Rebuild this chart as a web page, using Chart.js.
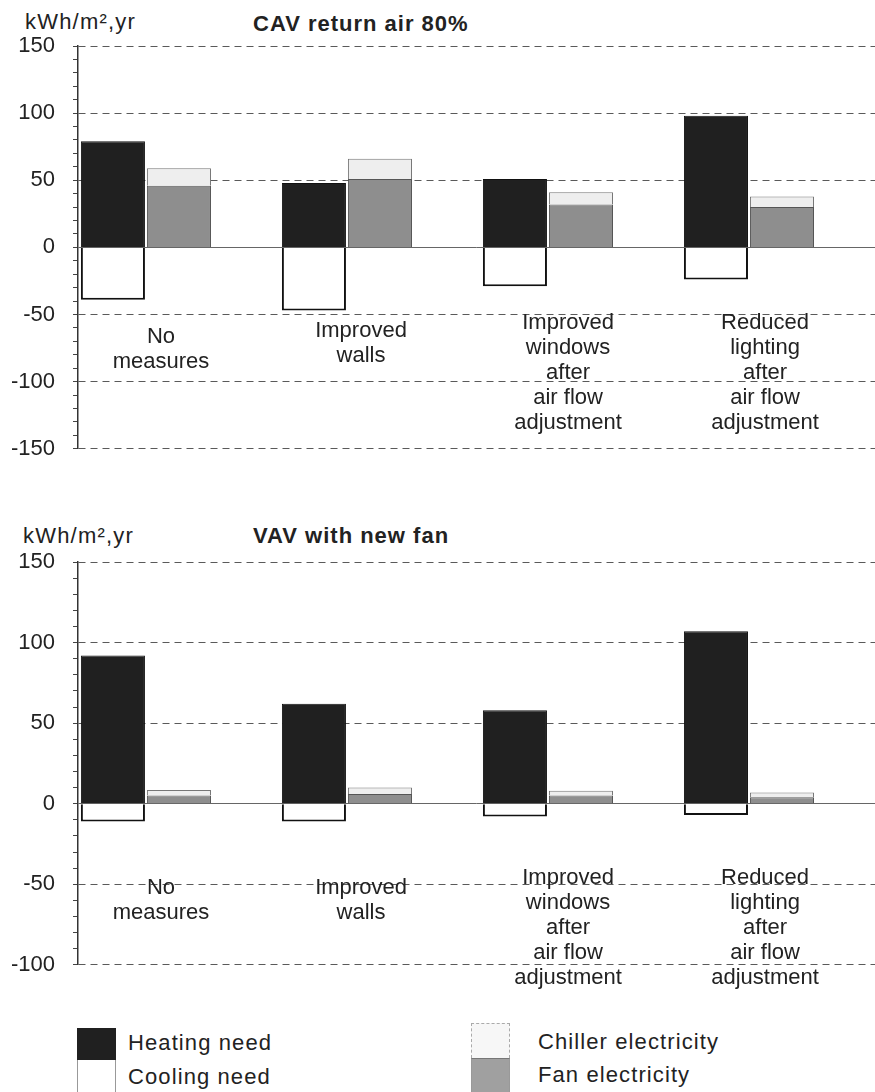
<!DOCTYPE html>
<html><head><meta charset="utf-8">
<script src="https://cdn.jsdelivr.net/npm/chart.js@4.4.1/dist/chart.umd.min.js"></script>
<style>
html,body{margin:0;padding:0;background:#fff;}
body{width:875px;height:1092px;position:relative;overflow:hidden;font-family:'Liberation Sans',Arial,sans-serif;color:#222;}
.c{position:absolute;left:0;width:875px;}
.t{position:absolute;font-size:22px;line-height:22px;white-space:nowrap;letter-spacing:1.2px;}
.b{font-weight:bold;letter-spacing:1px;}
.sw{position:absolute;width:39px;box-sizing:border-box;}
.lt{position:absolute;font-size:22px;line-height:22px;white-space:nowrap;letter-spacing:1.1px;}
</style></head><body>
<div class="t" style="left:25px;top:11px" id="u1"></div>
<div class="t b" style="left:253px;top:13px" id="title1"></div>
<div class="c" style="top:0;height:480px"><canvas id="c1" width="875" height="480"></canvas></div>
<div class="t" style="left:23px;top:525px" id="u2"></div>
<div class="t b" style="left:253px;top:525px" id="title2"></div>
<div class="c" style="top:490px;height:506px"><canvas id="c2" width="875" height="506"></canvas></div>
<div id="legend"></div>
<script>
// ---- data ----
const unitLabel = 'kWh/m\u00B2,yr';
const chartTitles = ['CAV return air 80%', 'VAV with new fan'];
const categories = [
  ['No', 'measures'],
  ['Improved', 'walls'],
  ['Improved', 'windows', 'after', 'air flow', 'adjustment'],
  ['Reduced', 'lighting', 'after', 'air flow', 'adjustment']
];
const seriesNames = ['Heating need', 'Cooling need', 'Fan electricity', 'Chiller electricity'];

const cavHeating = [79, 48, 51, 98];
const cavCooling = [-39, -47, -29, -24];
const cavFan     = [46, 51, 32, 30];
const cavChiller = [13, 15, 9, 8];

const vavHeating = [92, 62, 58, 107];
const vavCooling = [-11, -11, -8, -7];
const vavFan     = [5, 6, 5, 4];
const vavChiller = [3.5, 4, 3, 3];

const cavTickLabels = [-150, -100, -50, 0, 50, 100, 150];
const vavTickLabels = [-100, -50, 0, 50, 100, 150];

// ---- styles / layout ----
const FONT = "'Liberation Sans', Arial, sans-serif";
const styles = [
  {bg: '#202020', border: '#111', bw: 1},
  {bg: '#ffffff', border: '#111', bw: 2},
  {bg: '#8e8e8e', border: '#555', bw: 1},
  {bg: '#eeeeee', border: '#777', bw: 1}
];
const stacks = ['a', 'a', 'b', 'b'];

const catLabelPlugin = {
  id: 'catLabels',
  afterDatasetsDraw(chart, args, opts) {
    const {ctx} = chart;
    const x = chart.scales.x, y = chart.scales.y;
    ctx.save();
    ctx.font = '22px ' + FONT;
    ctx.fillStyle = '#222';
    ctx.textAlign = 'center';
    ctx.textBaseline = 'middle';
    categories.forEach((lines, i) => {
      const cx = x.getPixelForValue(i + opts.shift[i]);
      const y0 = y.getPixelForValue(opts.top[i]);
      lines.forEach((t, j) => ctx.fillText(t, cx, y0 + j * opts.lineHeight));
    });
    ctx.restore();
  }
};

function makeChart(id, series, yMin, yMax, tickLabels, padTop, padBottom, labelTop) {
  const datasets = series.map((vals, k) => ({
    label: seriesNames[k],
    data: vals.map((v, i) => ({x: i, y: v})),
    stack: stacks[k],
    backgroundColor: styles[k].bg,
    borderColor: styles[k].border,
    borderWidth: styles[k].bw,
    categoryPercentage: 0.657,
    barPercentage: 0.97
  }));
  return new Chart(document.getElementById(id), {
    type: 'bar',
    data: {datasets},
    plugins: [catLabelPlugin],
    options: {
      responsive: false,
      animation: false,
      layout: {padding: {top: padTop, bottom: padBottom, left: 0, right: 0}},
      plugins: {
        legend: {display: false},
        tooltip: {enabled: false},
        catLabels: {shift: [0.075, 0.07, 0.1, 0.08], top: labelTop, lineHeight: 25}
      },
      scales: {
        x: {
          type: 'linear', display: false, stacked: true, min: -0.338, max: 3.627, offset: false,
          ticks: {stepSize: 1, includeBounds: false},
          afterBuildTicks: (s) => { s.ticks = categories.map((c, i) => ({value: i})); }
        },
        y: {
          stacked: true,
          min: yMin, max: yMax,
          afterFit: (s) => { s.width = 78; },
          ticks: {
            stepSize: 10, autoSkip: false, padding: 18,
            color: '#222', font: {family: FONT, size: 22},
            callback: (v) => tickLabels.includes(v) ? String(v) : ''
          },
          grid: {
            drawTicks: true, tickLength: 5, tickWidth: 1, tickColor: '#444',
            lineWidth: 1,
            color: (c) => {
              if (!c.tick) return 'rgba(0,0,0,0)';
              const v = c.tick.value;
              if (v === 0) return '#666';
              return v % 50 === 0 ? '#5a5a5a' : 'rgba(0,0,0,0)';
            }
          },
          border: {
            display: true, color: '#333', width: 1.5,
            dash: (c) => (c.tick && c.tick.value === 0) ? [] : [7, 5]
          }
        }
      }
    }
  });
}

document.getElementById('u1').textContent = unitLabel;
document.getElementById('u2').textContent = unitLabel;
document.getElementById('title1').textContent = chartTitles[0];
document.getElementById('title2').textContent = chartTitles[1];

makeChart('c1', [cavHeating, cavCooling, cavFan, cavChiller], -150, 150, cavTickLabels, 46, 17, [-67, -62, -56.5, -56.5]);
makeChart('c2', [vavHeating, vavCooling, vavFan, vavChiller], -100, 150, vavTickLabels, 72, 17, [-52.5, -52, -46, -46]);

// ---- legend (built from series names and styles) ----
const legendItems = [
  {k: 0, left: 77, top: 1028, h: 32, tx: 128, ty: 1032},
  {k: 1, left: 77, top: 1060, h: 32, tx: 128, ty: 1066},
  {k: 3, left: 471, top: 1023, h: 35, tx: 538, ty: 1031},
  {k: 2, left: 471, top: 1058, h: 34, tx: 538, ty: 1064}
];
const lg = document.getElementById('legend');
legendItems.forEach(it => {
  const s = styles[it.k];
  const sw = document.createElement('div');
  sw.className = 'sw';
  sw.style.left = it.left + 'px';
  sw.style.top = it.top + 'px';
  sw.style.height = it.h + 'px';
  sw.style.background = s.bg;
  if (it.k === 1) { sw.style.borderLeft = '1px solid #999'; sw.style.borderRight = '1px solid #999'; }
  if (it.k === 3) { sw.style.border = '1px dashed #aaa'; sw.style.borderBottom = 'none'; sw.style.background = '#f7f7f7'; }
  if (it.k === 2) { sw.style.borderLeft = '1px solid #999'; sw.style.borderRight = '1px solid #999'; sw.style.borderTop = '1px solid #777'; sw.style.background = '#a0a0a0'; }
  lg.appendChild(sw);
  const t = document.createElement('div');
  t.className = 'lt';
  t.style.left = it.tx + 'px';
  t.style.top = it.ty + 'px';
  t.textContent = seriesNames[it.k];
  lg.appendChild(t);
});
</script>
</body></html>
